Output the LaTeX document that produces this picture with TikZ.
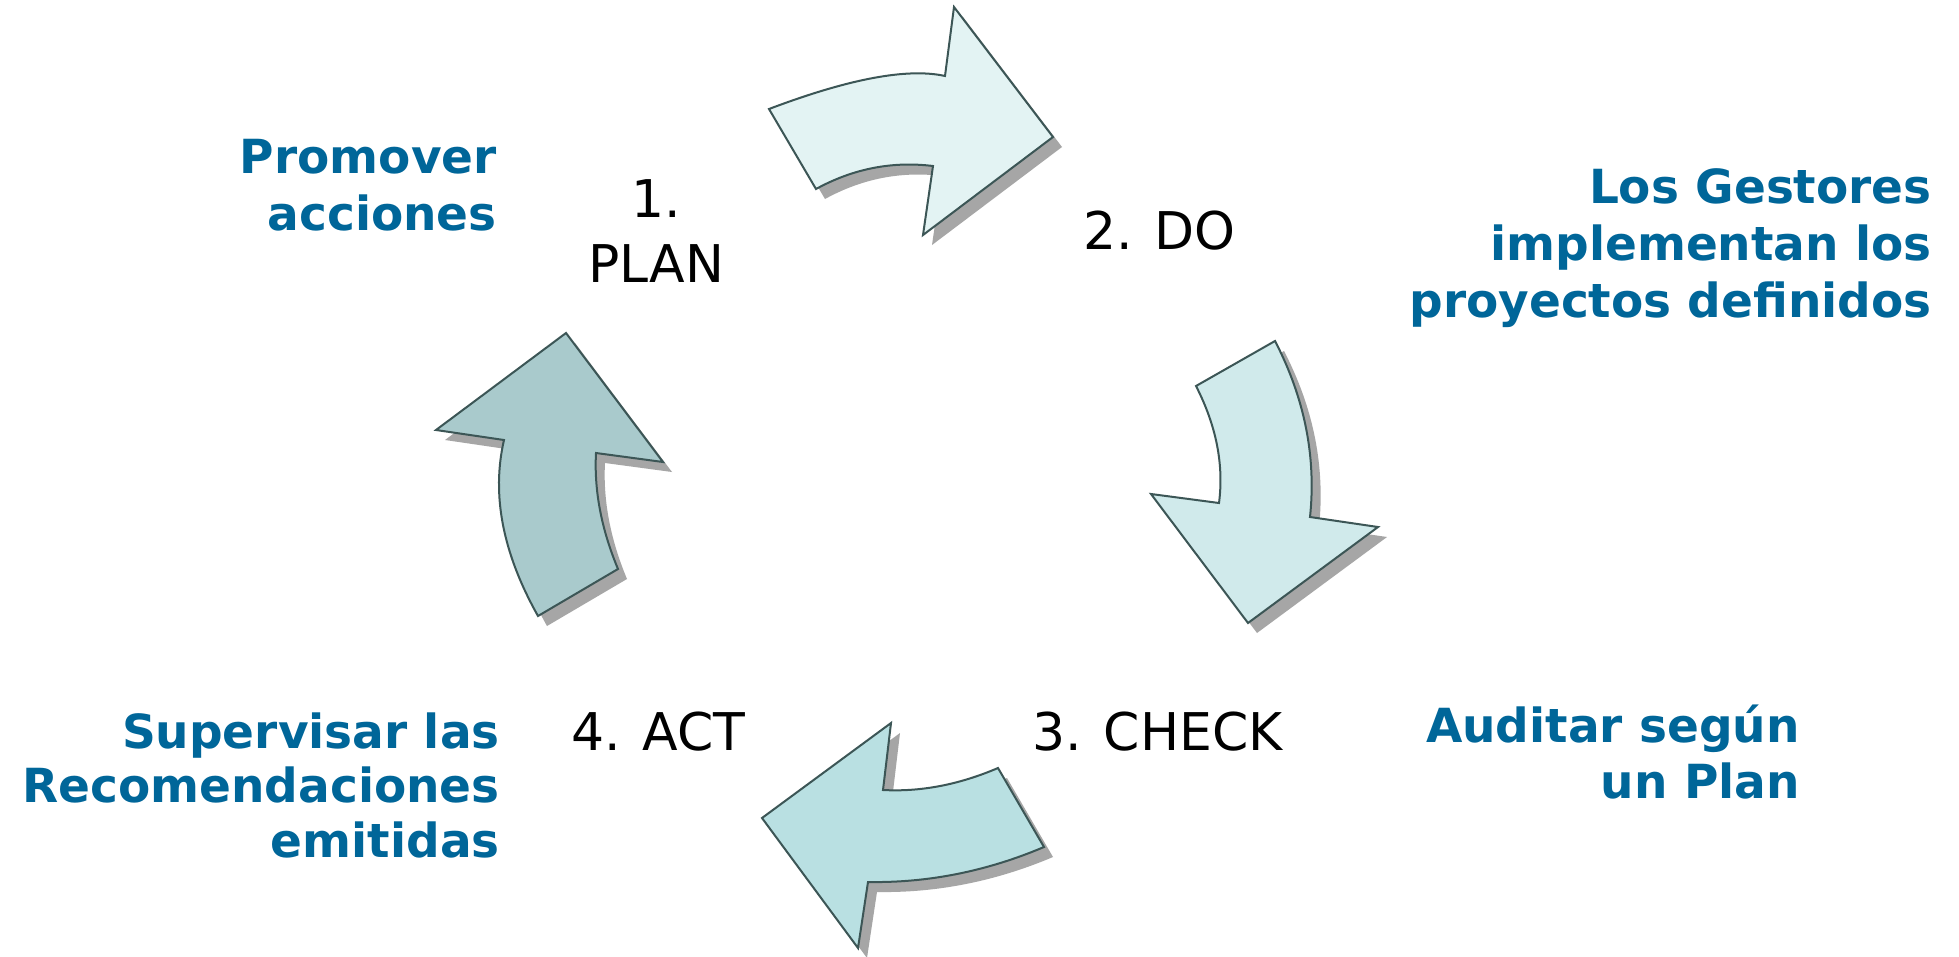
\documentclass[tikz,border=0pt]{standalone}
\usepackage{fontspec}
\setmainfont{DejaVu Sans}
\definecolor{arrowline}{HTML}{3C5656}
\definecolor{shadowgray}{HTML}{A6A6A6}
\definecolor{fillDo}{HTML}{E3F3F3}
\definecolor{fillCheck}{HTML}{D0EAEB}
\definecolor{fillAct}{HTML}{B9E0E2}
\definecolor{fillPlan}{HTML}{A9CACC}
\definecolor{noteblue}{HTML}{006699}

% the four curved block arrows of the cycle; the argument sets the style
\newcommand\arrowDo[1]{\path[#1] (769,109) -- (816,189)
  .. controls (853,168.7) and (892,161) .. (933,166) -- (923,235) -- (1053,137)
  -- (954,7) -- (945,76) .. controls (907.7,67.7) and (849,78.7) .. (769,109) -- cycle;}
\newcommand\arrowCheck[1]{\path[#1] (1196,386) -- (1275,341)
  .. controls (1304.7,398.3) and (1316.3,457) .. (1310,517) -- (1378,527) -- (1248,623)
  -- (1151,494) -- (1219,503) .. controls (1224,464.7) and (1216.3,425.7) .. (1196,386) -- cycle;}
\newcommand\arrowAct[1]{\path[#1] (998,768) -- (1044,847)
  .. controls (986.7,871.3) and (928,883) .. (868,882) -- (858,948) -- (762,818)
  -- (891,723) -- (883,790) .. controls (920.7,792) and (959,784.7) .. (998,768) -- cycle;}
\newcommand\arrowPlan[1]{\path[#1] (538,616) -- (618,569)
  .. controls (601.3,529) and (594,490.3) .. (596,453) -- (663,462) -- (566,333)
  -- (436,430) -- (504,440) .. controls (491.3,494.7) and (502.7,553.3) .. (538,616) -- cycle;}

\begin{document}
\begin{tikzpicture}[x=1pt,y=-1pt,
  blockarrow/.style={draw=arrowline, line width=2pt, line join=miter},
  dropshade/.style={fill=shadowgray, shift={(9,10)}},
  cyclelabel/.style={font=\fontsize{52}{62}\selectfont, text=black, inner sep=0pt},
  note/.style={font=\fontsize{47}{57}\selectfont\bfseries, text=noteblue,
    inner sep=0pt, anchor=base east}]
\fill[white] (0,0) rectangle (1959,956);
\useasboundingbox (0,0) rectangle (1959,956);

% drop shadows first, then the arrows on top
\arrowDo{dropshade}
\arrowCheck{dropshade}
\arrowAct{dropshade}
\arrowPlan{dropshade}
\arrowDo{blockarrow, fill=fillDo}
\arrowCheck{blockarrow, fill=fillCheck}
\arrowAct{blockarrow, fill=fillAct}
\arrowPlan{blockarrow, fill=fillPlan}

% step names
\node[cyclelabel, anchor=base] (plannum) at (656,217) {1.};
\node[cyclelabel, anchor=base] (planword) at (656,282) {PLAN};
\node[cyclelabel, anchor=base west] (do) at (1083,249) {2. DO};
\node[cyclelabel, anchor=base west] (check) at (1032,750) {3. CHECK};
\node[cyclelabel, anchor=base west] (act) at (571,750) {4. ACT};

% descriptions
\node[note] (prom1) at (497,173) {Promover};
\node[note] (prom2) at (497,230) {acciones};
\node[note] (ges1) at (1932,203) {Los Gestores};
\node[note] (ges2) at (1932,260) {implementan los};
\node[note] (ges3) at (1932,317) {proyectos definidos};
\node[note] (aud1) at (1800,742) {Auditar según};
\node[note] (aud2) at (1800,798) {un Plan};
\node[note] (sup1) at (500,748) {Supervisar las};
\node[note] (sup2) at (500,802) {Recomendaciones};
\node[note] (sup3) at (500,857) {emitidas};
\end{tikzpicture}
\end{document}
